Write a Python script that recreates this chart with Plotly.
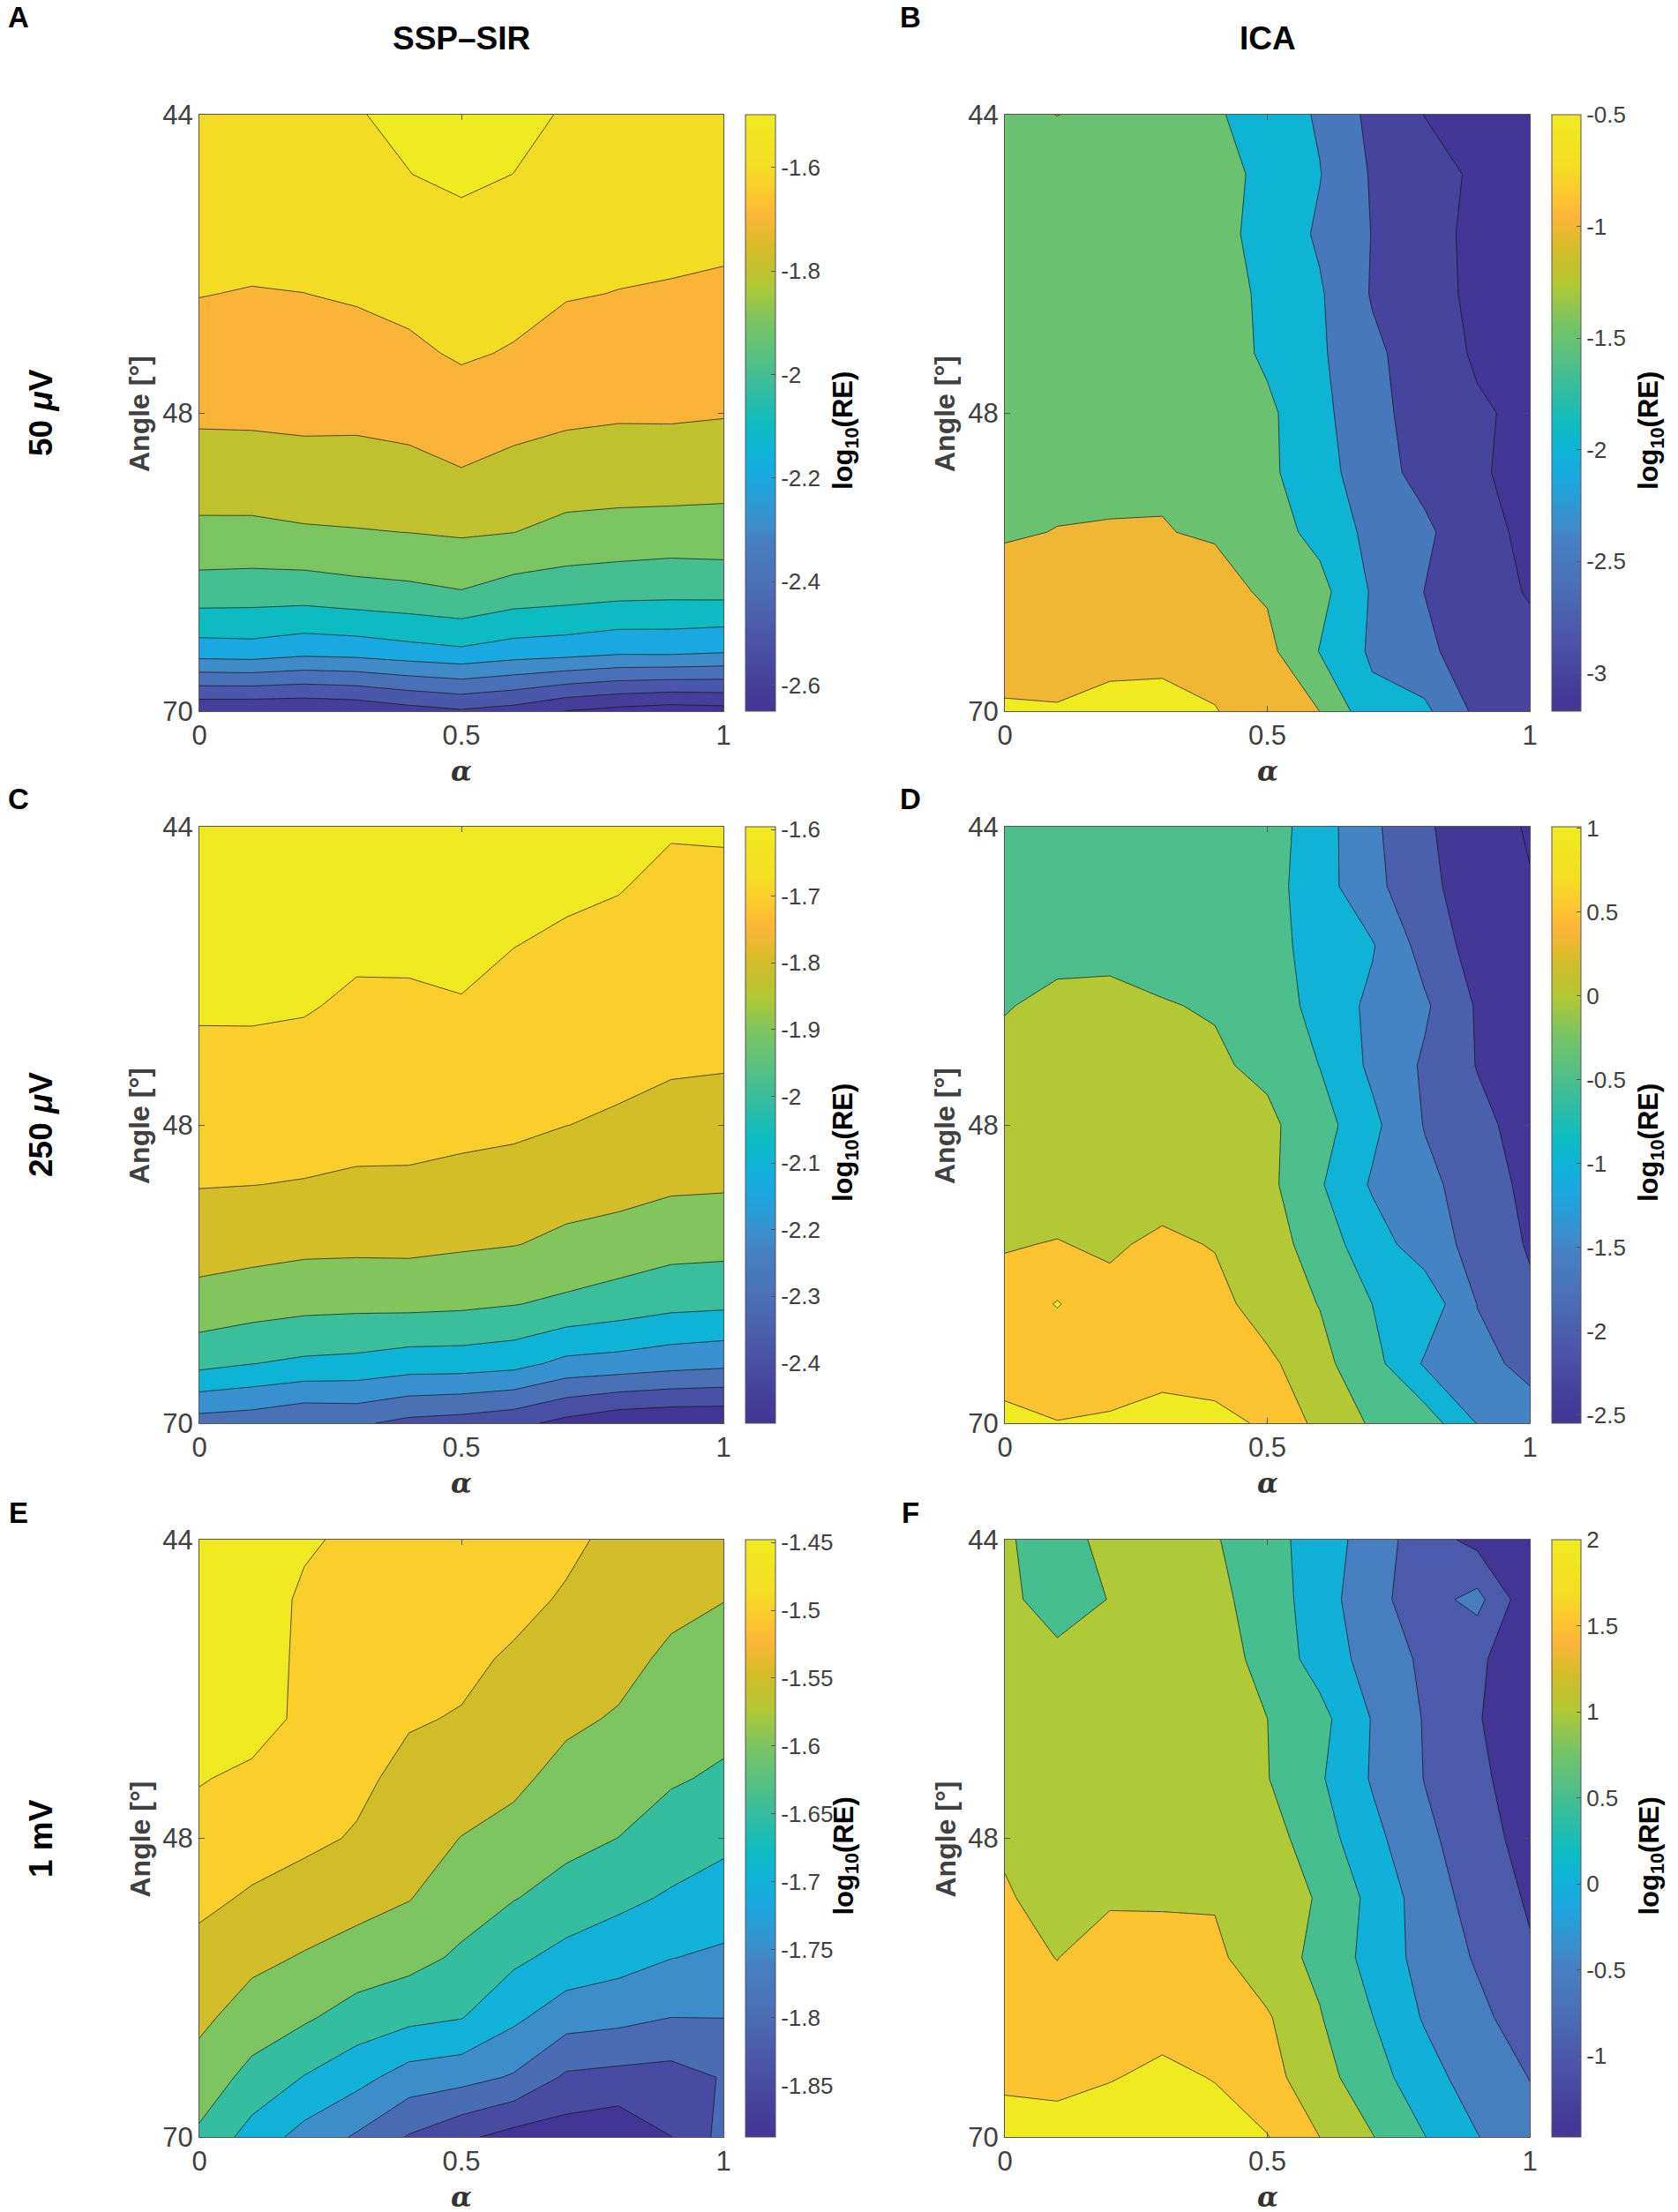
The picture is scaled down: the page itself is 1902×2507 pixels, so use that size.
#!/usr/bin/env python3
# Contour maps of log10(RE) against alpha and angle: SSP-SIR vs ICA at three amplitudes

import numpy as np
import plotly.graph_objects as go
from plotly.colors import sample_colorscale

W, H = 1902, 2507

alpha = [0, 0.1, 0.2, 0.3, 0.4, 0.5, 0.6, 0.7, 0.8, 0.9, 1]
angle_index = [0, 1, 2, 3, 4, 5, 6, 7, 8, 9, 10]
angle_ticks = [0, 5, 10]
angle_labels = ['44', '48', '70']
alpha_ticks = [0, 0.5, 1]
alpha_labels = ['0', '0.5', '1']

# Values. A, C and E are listed per alpha column, B, D and F per angle row
a_columns = [
    [-1.530, -1.545, -1.565, -1.597, -1.641, -1.684, -1.744, -1.822, -1.945, -2.147, -2.588],
    [-1.525, -1.540, -1.565, -1.605, -1.644, -1.683, -1.741, -1.823, -1.950, -2.140, -2.590],
    [-1.515, -1.540, -1.570, -1.6005, -1.639, -1.679, -1.733, -1.811, -1.951, -2.166, -2.595],
    [-1.503, -1.530, -1.560, -1.590, -1.636, -1.679, -1.735, -1.805, -1.933, -2.158, -2.580],
    [-1.488, -1.501, -1.538, -1.575, -1.617, -1.669, -1.727, -1.799, -1.922, -2.135, -2.540],
    [-1.480, -1.486, -1.522, -1.557, -1.589, -1.646, -1.705, -1.789, -1.904, -2.117, -2.512],
    [-1.484, -1.5005, -1.536, -1.571, -1.607, -1.666, -1.728, -1.799, -1.942, -2.145, -2.540],
    [-1.505, -1.530, -1.560, -1.594, -1.638, -1.682, -1.744, -1.828, -1.955, -2.156, -2.602],
    [-1.515, -1.540, -1.575, -1.602, -1.645, -1.689, -1.751, -1.834, -1.968, -2.178, -2.632],
    [-1.520, -1.540, -1.570, -1.610, -1.650, -1.690, -1.744, -1.844, -1.973, -2.176, -2.652],
    [-1.530, -1.550, -1.580, -1.617, -1.656, -1.694, -1.757, -1.840, -1.970, -2.191, -2.640],
]
b_rows = [
    [-1.10, -0.995, -1.10, -1.20, -1.439, -1.731, -2.055, -2.633, -3.01, -3.06, -3.15],
    [-1.30, -1.25, -1.25, -1.27, -1.298, -1.64, -1.983, -2.548, -2.80, -3.08, -3.17],
    [-1.28, -1.26, -1.25, -1.27, -1.32, -1.688, -2.068, -2.514, -2.854, -3.10, -3.16],
    [-1.27, -1.24, -1.22, -1.23, -1.264, -1.606, -1.949, -2.54, -2.824, -3.10, -3.15],
    [-1.25, -1.20, -1.18, -1.18, -1.24, -1.586, -1.931, -2.40, -2.75, -3.06, -3.12],
    [-1.20, -1.16, -1.13, -1.12, -1.15, -1.404, -1.862, -2.368, -2.689, -2.942, -3.10],
    [-1.15, -1.09, -1.07, -1.03, -1.10, -1.402, -1.811, -2.278, -2.67, -2.967, -3.09],
    [-1.04, -0.99, -0.98, -0.989, -1.03, -1.298, -1.64, -2.147, -2.396, -2.88, -3.08],
    [-0.82, -0.80, -0.75, -0.75, -0.878, -1.05, -1.345, -2.051, -2.51, -2.89, -3.02],
    [-0.60, -0.62, -0.55, -0.55, -0.68, -0.87, -1.52, -2.078, -2.378, -2.80, -2.92],
    [-0.472, -0.479, -0.45, -0.439, -0.478, -0.75, -1.002, -1.85, -1.90, -2.62, -2.78],
]
c_columns = [
    [-1.575, -1.578, -1.582, -1.590, -1.620, -1.660, -1.696, -1.756, -1.836, -1.970, -2.244],
    [-1.575, -1.578, -1.582, -1.588, -1.623, -1.661, -1.699, -1.765, -1.855, -1.998, -2.258],
    [-1.575, -1.578, -1.584, -1.593, -1.629, -1.665, -1.704, -1.776, -1.871, -2.018, -2.294],
    [-1.570, -1.575, -1.585, -1.614, -1.644, -1.675, -1.711, -1.778, -1.876, -2.026, -2.285],
    [-1.570, -1.575, -1.585, -1.613, -1.644, -1.675, -1.712, -1.777, -1.874, -2.049, -2.327],
    [-1.570, -1.572, -1.575, -1.606, -1.642, -1.678, -1.724, -1.788, -1.881, -2.051, -2.343],
    [-1.570, -1.580, -1.599, -1.628, -1.657, -1.685, -1.732, -1.797, -1.896, -2.067, -2.370],
    [-1.570, -1.585, -1.614, -1.642, -1.670, -1.699, -1.767, -1.817, -1.920, -2.126, -2.431],
    [-1.580, -1.596, -1.623, -1.651, -1.678, -1.712, -1.768, -1.838, -1.946, -2.138, -2.477],
    [-1.593, -1.618, -1.642, -1.666, -1.690, -1.732, -1.785, -1.863, -1.972, -2.160, -2.490],
    [-1.591, -1.617, -1.642, -1.668, -1.694, -1.739, -1.789, -1.868, -1.980, -2.175, -2.490],
]
d_rows = [
    [-0.20, -0.18, -0.18, -0.20, -0.22, -0.25, -0.78, -1.40, -1.938, -2.257, -2.55],
    [-0.15, -0.13, -0.13, -0.15, -0.20, -0.30, -0.794, -1.354, -1.873, -2.25, -2.47],
    [-0.10, -0.10, -0.08, -0.13, -0.15, -0.35, -0.661, -0.96, -1.695, -2.20, -2.35],
    [-0.02, 0.08, 0.08, 0.02, -0.03, -0.205, -0.681, -1.106, -1.429, -2.05, -2.30],
    [0.10, 0.17, 0.20, 0.17, 0.061, -0.10, -0.51, -1.103, -1.568, -2.02, -2.25],
    [0.20, 0.25, 0.28, 0.25, 0.20, 0.103, -0.294, -0.882, -1.527, -1.867, -2.20],
    [0.35, 0.30, 0.33, 0.28, 0.30, 0.127, -0.45, -1.057, -1.356, -1.763, -2.12],
    [0.47, 0.52, 0.43, 0.60, 0.47, 0.253, -0.253, -0.771, -1.259, -1.662, -2.05],
    [0.67, 1.03, 0.65, 0.70, 0.68, 0.24, -0.015, -0.502, -0.67, -1.51, -1.90],
    [0.75, 0.60, 0.80, 0.85, 0.80, 0.62, 0.134, -0.32, -1.06, -1.37, -1.62],
    [1.15, 1.02, 1.05, 1.16, 1.12, 0.94, 0.361, -0.059, -0.224, -1.02, -1.30],
]
e_columns = [
    [-1.430, -1.430, -1.430, -1.430, -1.447, -1.469, -1.490, -1.514, -1.539, -1.571, -1.609],
    [-1.430, -1.430, -1.430, -1.430, -1.460, -1.482, -1.505, -1.538, -1.573, -1.615, -1.670],
    [-1.445, -1.456, -1.458, -1.460, -1.475, -1.490, -1.520, -1.554, -1.593, -1.652, -1.718],
    [-1.4575, -1.460, -1.470, -1.480, -1.490, -1.504, -1.533, -1.570, -1.621, -1.683, -1.756],
    [-1.470, -1.475, -1.485, -1.496, -1.513, -1.531, -1.548, -1.584, -1.637, -1.722, -1.804],
    [-1.460, -1.475, -1.490, -1.503, -1.527, -1.551, -1.578, -1.608, -1.648, -1.732, -1.840],
    [-1.470, -1.487, -1.506, -1.524, -1.541, -1.564, -1.598, -1.640, -1.690, -1.755, -1.868],
    [-1.490, -1.505, -1.524, -1.542, -1.564, -1.587, -1.618, -1.666, -1.728, -1.808, -1.876],
    [-1.512, -1.524, -1.537, -1.554, -1.577, -1.6005, -1.638, -1.681, -1.736, -1.815, -1.888],
    [-1.520, -1.539, -1.558, -1.576, -1.595, -1.623, -1.656, -1.699, -1.7501, -1.819, -1.8505],
    [-1.530, -1.549, -1.568, -1.586, -1.607, -1.637, -1.675, -1.708, -1.7495, -1.797, -1.784],
]
f_rows = [
    [1.10, 0.62, 1.275, 1.25, 1.039, 0.684, 0.269, -0.234, -0.775, -1.15, -1.30],
    [1.08, 0.85, 1.01, 1.20, 1.146, 0.74, 0.264, -0.38, -0.70, -0.35, -1.37],
    [1.15, 1.084, 1.20, 1.25, 1.25, 0.819, 0.299, -0.202, -0.587, -0.90, -1.40],
    [1.20, 1.20, 1.25, 1.30, 1.25, 1.002, 0.657, -0.026, -0.534, -0.96, -1.40],
    [1.25, 1.25, 1.30, 1.30, 1.25, 1.018, 0.56, -0.047, -0.515, -0.882, -1.30],
    [1.46, 1.40, 1.40, 1.40, 1.35, 1.209, 0.723, 0.145, -0.39, -0.779, -1.20],
    [1.528, 1.40, 1.46, 1.45, 1.46, 1.35, 0.94, 0.368, -0.242, -0.692, -1.06],
    [1.58, 1.495, 1.65, 1.67, 1.60, 1.215, 0.888, 0.315, -0.176, -0.55, -0.94],
    [1.65, 1.60, 1.72, 1.75, 1.72, 1.55, 1.03, 0.51, -0.05, -0.382, -0.75],
    [1.85, 1.80, 1.96, 2.15, 1.969, 1.68, 1.184, 0.70, 0.212, -0.259, -0.51],
    [2.35, 2.30, 2.40, 2.45, 2.30, 2.02, 1.498, 1.02, 0.51, 0.02, -0.37],
]

# parula as it looks in the printed figure
parula = [
    [0.0, '#433595'], [0.043, '#463e99'], [0.13, '#4b58a9'], [0.217, '#4a71b7'],
    [0.29, '#4680c2'], [0.304, '#418ac8'], [0.39, '#19a8e0'], [0.43, '#10b2d8'],
    [0.478, '#0cbcc2'], [0.565, '#45be92'], [0.652, '#7ac462'], [0.714, '#b1c935'],
    [0.739, '#c0c12f'], [0.78, '#d8bc28'], [0.826, '#fbb539'], [0.857, '#fec331'],
    [0.913, '#f5dd24'], [1.0, '#f0ea21'],
]

FONT = 'Liberation Sans'
GREY = '#404040'

COL_X = [(226, 820, 845, 879), (1139, 1734, 1759, 1792)]
ROW_Y = [(130, 806), (937, 1613), (1745, 2422)]

panels = [
    dict(letter='A', z=np.array(a_columns).T, col=0, row=0, levels=(-2.6, -1.5, 0.1), clim=(-2.65, -1.4985),
         ticks=[-1.6, -1.8, -2, -2.2, -2.4, -2.6]),
    dict(letter='B', z=np.array(b_rows), col=1, row=0, levels=(-3, -0.5, 0.5), clim=(-3.17, -0.5),
         ticks=[-0.5, -1, -1.5, -2, -2.5, -3]),
    dict(letter='C', z=np.array(c_columns).T, col=0, row=1, levels=(-2.4, -1.6, 0.1), clim=(-2.49, -1.596),
         ticks=[-1.6, -1.7, -1.8, -1.9, -2, -2.1, -2.2, -2.3, -2.4]),
    dict(letter='D', z=np.array(d_rows), col=1, row=1, levels=(-2.5, 1, 0.5), clim=(-2.55, 1.01),
         ticks=[1, 0.5, 0, -0.5, -1, -1.5, -2, -2.5]),
    dict(letter='E', z=np.array(e_columns).T, col=0, row=2, levels=(-1.85, -1.45, 0.05), clim=(-1.888, -1.448),
         ticks=[-1.45, -1.5, -1.55, -1.6, -1.65, -1.7, -1.75, -1.8, -1.85]),
    dict(letter='F', z=np.array(f_rows), col=1, row=2, levels=(-1, 2, 0.5), clim=(-1.47, 2.0),
         ticks=[2, 1.5, 1, 0.5, 0, -0.5, -1]),
]


def px(x):
    return x / W


def py(y):
    return 1 - y / H


def band_colorscale(levels, clim):
    # plotly spreads the scale over the bands; MATLAB paints a band with the colour of its lower level
    start, end, size = levels
    n = int(round((end - start) / size)) + 1
    values = [clim[0]] + [start + k * size for k in range(n)]
    ts = [min(max((v - clim[0]) / (clim[1] - clim[0]), 0), 1) for v in values]
    cols = sample_colorscale(parula, ts)
    return [[i / n, c] for i, c in enumerate(cols)]


def label(x, y, text, size, angle=0, color='black', family=FONT):
    return dict(xref='paper', yref='paper', x=px(x), y=py(y), text=text, showarrow=False,
                xanchor='center', yanchor='middle', textangle=angle,
                font=dict(family=family, size=size, color=color))


fig = go.Figure()
annotations = []

for i, p in enumerate(panels):
    n = '' if i == 0 else str(i + 1)
    x0, x1, cb0, cb1 = COL_X[p['col']]
    y0, y1 = ROW_Y[p['row']]
    start, end, size = p['levels']

    fig.add_trace(go.Contour(
        x=alpha, y=angle_index, z=p['z'], xaxis='x' + n, yaxis='y' + n,
        autocontour=False, showscale=False, hoverinfo='skip',
        contours=dict(start=start, end=end, size=size, coloring='fill'),
        colorscale=band_colorscale(p['levels'], p['clim']),
        zmin=start - size / 2, zmax=end + size / 2,
        line=dict(color='#111111', width=0.7, smoothing=0),
    ))
    # continuous colour bar, the filled contours only give discrete steps
    fig.add_trace(go.Scatter(
        x=[None], y=[None], xaxis='x' + n, yaxis='y' + n, mode='markers', showlegend=False,
        marker=dict(color=[p['clim'][0]], cmin=p['clim'][0], cmax=p['clim'][1], colorscale=parula, showscale=True,
                    colorbar=dict(x=px(cb0), xanchor='left', y=py(y1), yanchor='bottom',
                                  len=(y1 - y0) / H, lenmode='fraction',
                                  thickness=cb1 - cb0, thicknessmode='pixels', xpad=0, ypad=0,
                                  outlinecolor='#555555', outlinewidth=1,
                                  tickmode='array', tickvals=p['ticks'], ticktext=[str(t) for t in p['ticks']],
                                  ticks='inside', ticklen=5, tickcolor='#555555',
                                  tickfont=dict(family=FONT, size=26, color=GREY))),
    ))

    axis = dict(showline=True, linecolor='#555555', linewidth=1, mirror='ticks', ticks='inside', ticklen=6,
                tickcolor='#555555', showgrid=False, zeroline=False, tickmode='array',
                tickfont=dict(family=FONT, size=31, color=GREY))
    fig.layout['xaxis' + n] = dict(axis, domain=[px(x0), px(x1)], range=[0, 1], tickvals=alpha_ticks,
                                   ticktext=alpha_labels, anchor='y' + n)
    fig.layout['yaxis' + n] = dict(axis, domain=[py(y1), py(y0)], range=[10, 0], tickvals=angle_ticks,
                                   ticktext=angle_labels, anchor='x' + n)

    mid_x = (x0 + x1) / 2
    mid_y = (y0 + y1) / 2
    annotations.append(label(mid_x, y1 + 68, '<b><i>α</i></b>', 31, family='DejaVu Serif', color='#333333'))
    annotations.append(label(x0 - 68, mid_y + 1, '<b>Angle [°]</b>', 32, angle=-90, color=GREY))
    annotations.append(label(cb1 + 79, mid_y + 20, '<b>log<sub>10</sub>(RE)</b>', 31, angle=-90))
    annotations.append(label(21 if p['col'] == 0 else 1032, y0 - 110 if p['row'] == 0 else y0 - 31,
                             '<b>%s</b>' % p['letter'], 33))

annotations.append(label(523, 44, '<b>SSP–SIR</b>', 37))
annotations.append(label(1437, 44, '<b>ICA</b>', 37))
annotations.append(label(46, 468, '<b>50 <i>μ</i>V</b>', 37, angle=-90))
annotations.append(label(46, 1275, '<b>250 <i>μ</i>V</b>', 37, angle=-90))
annotations.append(label(46, 2084, '<b>1 mV</b>', 37, angle=-90))

fig.update_layout(
    width=W, height=H, autosize=False,
    margin=dict(l=0, r=0, t=0, b=0, autoexpand=False),
    paper_bgcolor='white', plot_bgcolor='white',
    showlegend=False, annotations=annotations,
)

fig.write_html("out.html", config=dict(displayModeBar=False), post_script="document.body.style.margin='0';")
